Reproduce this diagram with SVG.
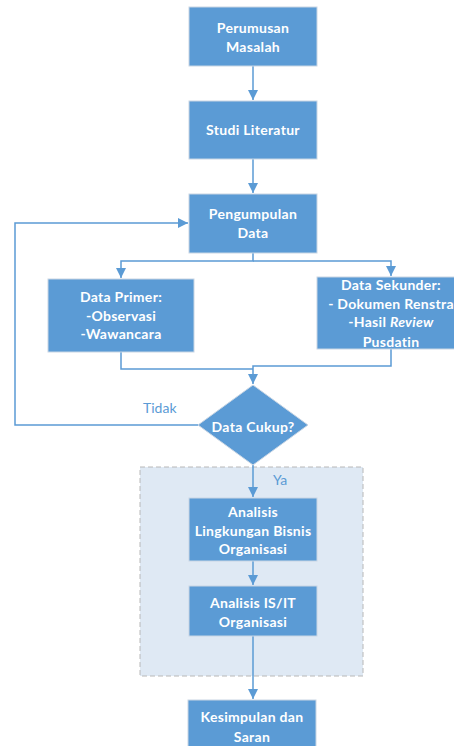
<svg xmlns="http://www.w3.org/2000/svg" width="454" height="746" viewBox="0 0 454 746">
<defs>
<marker id="ah" viewBox="0 0 10 10" refX="10" refY="5" markerWidth="10" markerHeight="10" markerUnits="userSpaceOnUse" orient="auto">
<path d="M0,0 L10,5 L0,10 Z" fill="#5b9bd5"/>
</marker>
</defs>
<style>
.box{fill:#5b9bd5;stroke:#c9d6e4;stroke-width:1}
.t{font-family:Lato,"Open Sans","Liberation Sans",sans-serif;font-weight:bold;font-size:14px;fill:#ffffff;text-anchor:middle;letter-spacing:0.3px}
.lbl{font-family:Lato,"Open Sans","Liberation Sans",sans-serif;font-size:14px;fill:#5b9bd5}
.c{fill:none;stroke:#5b9bd5;stroke-width:1.5}
</style>
<rect width="454" height="746" fill="#ffffff"/>
<g id="container">
<rect x="140" y="467" width="223" height="209" fill="#dfe9f4" stroke="#b8b8b8" stroke-width="1" stroke-dasharray="5,3"/>
</g>
<g id="connectors">
<path class="c" d="M253,66 V100" marker-end="url(#ah)"/>
<path class="c" d="M253,159 V193" marker-end="url(#ah)"/>
<path class="c" d="M253,253 V261 H121 V278" marker-end="url(#ah)"/>
<path class="c" d="M253,261 H391 V276" marker-end="url(#ah)"/>
<path class="c" d="M121,352 V369 H253"/>
<path class="c" d="M391,349 V366 H253 V384" marker-end="url(#ah)"/>
<path class="c" d="M198,425 H15 V223 H188" marker-end="url(#ah)"/>
<path class="c" d="M253,465 V497" marker-end="url(#ah)"/>
<path class="c" d="M253,561 V585" marker-end="url(#ah)"/>
<path class="c" d="M253,636 V699" marker-end="url(#ah)"/>
<text class="lbl" x="143" y="413">Tidak</text>
<text class="lbl" x="273" y="485">Ya</text>
</g>
<g id="perumusan">
<rect class="box" x="189" y="7" width="128" height="59"/>
<text class="t" x="253" y="33">Perumusan</text>
<text class="t" x="253" y="52">Masalah</text>
</g>
<g id="studi">
<rect class="box" x="189" y="101" width="128" height="58"/>
<text class="t" x="253" y="135">Studi Literatur</text>
</g>
<g id="pengumpulan">
<rect class="box" x="189" y="194" width="128" height="59"/>
<text class="t" x="253" y="219">Pengumpulan</text>
<text class="t" x="253" y="238">Data</text>
</g>
<g id="primer">
<rect class="box" x="48" y="279" width="146" height="73"/>
<text class="t" x="121" y="302">Data Primer:</text>
<text class="t" x="121" y="321">-Observasi</text>
<text class="t" x="121" y="339">-Wawancara</text>
</g>
<g id="sekunder">
<rect class="box" x="317" y="277" width="148" height="72"/>
<text class="t" x="391" y="290">Data Sekunder:</text>
<text class="t" x="391" y="309">- Dokumen Renstra</text>
<text class="t" x="391" y="327">-Hasil <tspan font-style="italic">Review</tspan></text>
<text class="t" x="391" y="347">Pusdatin</text>
</g>
<g id="cukup">
<polygon points="253,385 308,425 253,465 198,425" fill="#5b9bd5" stroke="#c9d6e4" stroke-width="1"/>
<text class="t" x="253" y="432">Data Cukup?</text>
</g>
<g id="lingkungan">
<rect class="box" x="189" y="498" width="128" height="63"/>
<text class="t" x="253" y="517">Analisis</text>
<text class="t" x="253" y="536">Lingkungan Bisnis</text>
<text class="t" x="253" y="554">Organisasi</text>
</g>
<g id="isit">
<rect class="box" x="189" y="586" width="128" height="50"/>
<text class="t" x="253" y="608">Analisis IS/IT</text>
<text class="t" x="253" y="627">Organisasi</text>
</g>
<g id="kesimpulan">
<rect class="box" x="188" y="700" width="128" height="60"/>
<text class="t" x="252" y="722">Kesimpulan dan</text>
<text class="t" x="252" y="742">Saran</text>
</g>
</svg>
